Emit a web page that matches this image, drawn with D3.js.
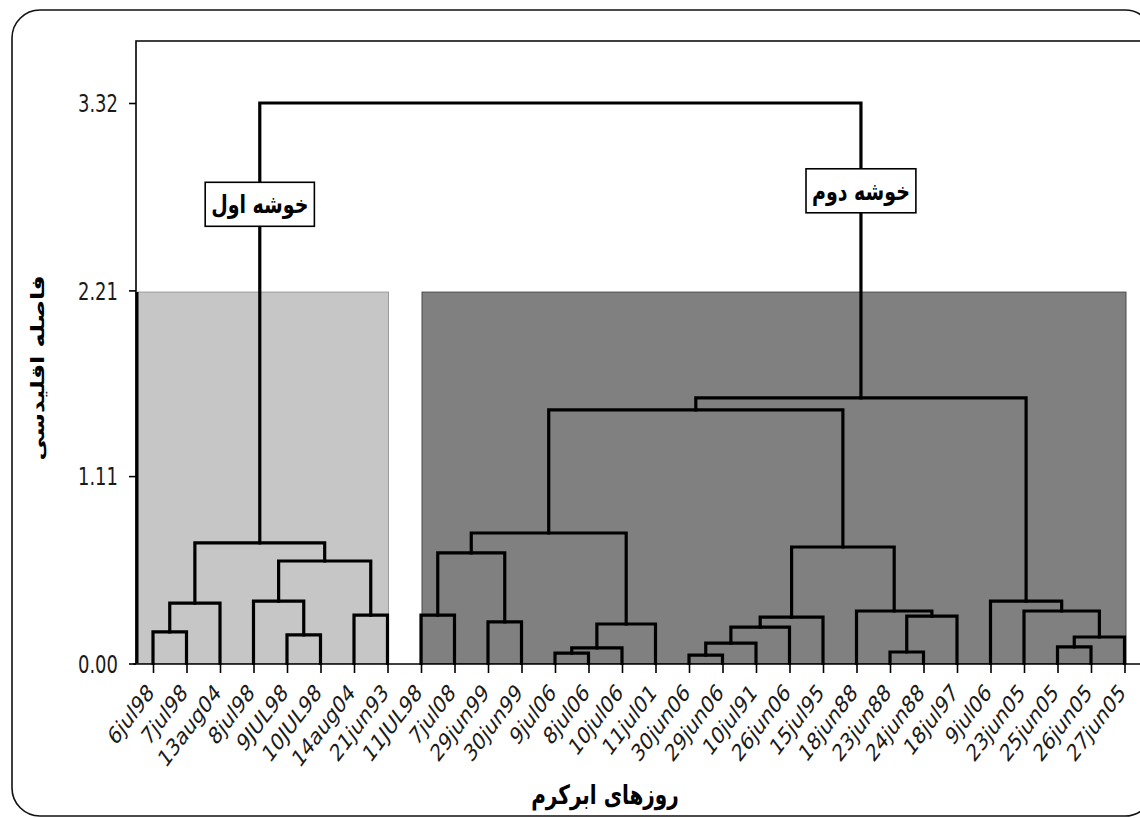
<!DOCTYPE html>
<html>
<head>
<meta charset="utf-8">
<script src="https://cdn.jsdelivr.net/npm/d3@7"></script>
<style>
  body { margin: 0; background: #fff; }
  svg { display: block; }
</style>
</head>
<body>
<svg id="chart" width="1140" height="818"></svg>
<script>
// Cloudburst days, in dendrogram leaf order
const leafLabels = [
  "6jul98", "7jul98", "13aug04", "8jul98", "9JUL98", "10JUL98", "14aug04", "21jun93",
  "11JUL98", "7jul08", "29jun99", "30jun99", "9jul06", "8jul06", "10jul06", "11jul01",
  "30jun06", "29jun06", "10jul91", "26jun06", "15jul95", "18jun88", "23jun88", "24jun88",
  "18jul97", "9jul06", "23jun05", "25jun05", "26jun05", "27jun05"
];

// Agglomeration steps: step k joins nodes mergeA[k] and mergeB[k] at mergeHeight[k]
// and creates node id leafLabels.length + k
const mergeA = [16, 12, 22, 31, 27, 30, 34, 4, 0, 35, 33, 10, 39, 32, 6, 8, 21, 26, 38, 3, 25, 49, 45, 42, 48, 52, 55, 56, 54];
const mergeB = [17, 13, 23, 14, 28, 18, 29, 5, 1, 19, 15, 11, 20, 24, 7, 9, 43, 36, 2, 37, 47, 44, 41, 46, 51, 40, 53, 50, 57];
const mergeHeight = [0.050, 0.062, 0.068, 0.092, 0.098, 0.121, 0.157, 0.169, 0.187, 0.216,
                     0.234, 0.246, 0.275, 0.281, 0.287, 0.287, 0.311, 0.311, 0.358, 0.370,
                     0.370, 0.607, 0.655, 0.690, 0.714, 0.773, 1.502, 1.573, 3.32];

// Euclidean distance axis
const yTickValues = [0, 1.11, 2.21, 3.32];
const yTickLabels = ["0.00", "1.11", "2.21", "3.32"];

// Two clusters cut from the tree
const clusterNames = ["خوشه اول", "خوشه دوم"];
const clusterFirstLeaf = [0, 8];
const clusterLastLeaf = [7, 29];
const clusterNode = [54, 57];
const clusterNameHeight = [2.72, 2.80];
const cutHeight = 2.2;

const yTitle = "فاصله اقلیدسی";
const xTitle = "روزهای ابرکرم";

// ---- layout ----
const W = 1140, H = 818;
const plot = { left: 136, top: 41, bottom: 663.5 };
const stretch = 1.33;   // tall, narrow lettering of the chart

const svg = d3.select("#chart");

const x = d3.scalePoint()
  .domain(d3.range(leafLabels.length))
  .range([153, 1124.5]);

const y = d3.scaleLinear()
  .domain([0, 3.32])
  .range([plot.bottom, 103]);

// outer rounded frame
svg.append("rect")
  .attr("x", 12).attr("y", 10)
  .attr("width", 1141).attr("height", 806)
  .attr("rx", 28).attr("ry", 28)
  .attr("fill", "#fff")
  .attr("stroke", "#111").attr("stroke-width", 1.6);

// plot frame (left and top sides show)
svg.append("path")
  .attr("d", `M${plot.left},${plot.bottom} V${plot.top} H${W + 5}`)
  .attr("fill", "none").attr("stroke", "#000").attr("stroke-width", 1.6);

// ---- node positions ----
const nodeX = leafLabels.map((_, i) => x(i));
const nodeH = leafLabels.map(() => 0);
mergeA.forEach((a, k) => {
  const b = mergeB[k];
  nodeX.push((nodeX[a] + nodeX[b]) / 2);
  nodeH.push(mergeHeight[k]);
});

// ---- cluster shading ----
const clusterFill = ["#c6c6c6", "#808080"];
const clusterEdge = ["#9a9a9a", "#4a4a4a"];
const boxPad = [[-16, 1], [1, 1.5]];
clusterNames.forEach((_, c) => {
  const x0 = x(clusterFirstLeaf[c]) + boxPad[c][0];
  const x1 = x(clusterLastLeaf[c]) + boxPad[c][1];
  svg.append("rect")
    .attr("x", x0).attr("y", y(cutHeight))
    .attr("width", x1 - x0).attr("height", plot.bottom - y(cutHeight))
    .attr("fill", clusterFill[c])
    .attr("stroke", clusterEdge[c]).attr("stroke-width", 1);
});
// heavy left edge of the first cluster block
svg.append("line")
  .attr("x1", x(clusterFirstLeaf[0]) - 16).attr("x2", x(clusterFirstLeaf[0]) - 16)
  .attr("y1", y(cutHeight)).attr("y2", plot.bottom)
  .attr("stroke", "#000").attr("stroke-width", 3);

// ---- x axis ----
const xAxis = d3.axisBottom(x).tickSize(9).tickFormat("");
const gx = svg.append("g")
  .attr("transform", `translate(0,${plot.bottom + 0.5})`)
  .call(xAxis);
gx.select(".domain").remove();
gx.selectAll(".tick line").attr("stroke", "#000").attr("stroke-width", 1.6);
svg.append("line")
  .attr("x1", plot.left - 3).attr("x2", W)
  .attr("y1", plot.bottom + 0.5).attr("y2", plot.bottom + 0.5)
  .attr("stroke", "#000").attr("stroke-width", 1.6);

svg.append("g")
  .selectAll("text")
  .data(leafLabels)
  .join("text")
  .attr("transform", (d, i) => `translate(${x(i) + 2},694) scale(1,${stretch}) rotate(-45)`)
  .attr("text-anchor", "end")
  .attr("font-family", "DejaVu Sans, sans-serif")
  .attr("font-size", 18)
  .attr("fill", "#1a1a1a")
  .text(d => d);

// ---- y axis ----
const yAxis = d3.axisLeft(y)
  .tickValues(yTickValues)
  .tickFormat((d, i) => yTickLabels[i])
  .tickSize(7)
  .tickPadding(11);
const gy = svg.append("g")
  .attr("transform", `translate(${plot.left},0)`)
  .call(yAxis);
gy.select(".domain").remove();
gy.selectAll(".tick line").attr("stroke", "#000").attr("stroke-width", 1.6);
gy.selectAll(".tick text")
  .attr("font-family", "DejaVu Sans, sans-serif")
  .attr("font-size", 18)
  .attr("fill", "#1a1a1a")
  .attr("dy", "0.36em")
  .attr("transform", `scale(1,${stretch})`)
  .attr("y", 0);

// ---- dendrogram links ----
const links = svg.append("g")
  .attr("fill", "none")
  .attr("stroke", "#000")
  .attr("stroke-width", 3.2)
  .attr("stroke-linejoin", "miter")
  .attr("stroke-linecap", "square");
mergeA.forEach((a, k) => {
  const b = mergeB[k];
  const h = y(mergeHeight[k]);
  links.append("path")
    .attr("d", `M${nodeX[a]},${y(nodeH[a])} V${h} H${nodeX[b]} V${y(nodeH[b])}`);
});

// ---- cluster name boxes ----
clusterNames.forEach((name, c) => {
  const cx = nodeX[clusterNode[c]];
  const cy = y(clusterNameHeight[c]);
  const g = svg.append("g").attr("transform", `translate(${cx},${cy})`);
  const t = g.append("text")
    .attr("text-anchor", "middle")
    .attr("direction", "rtl")
    .attr("font-family", "DejaVu Sans, sans-serif")
    .attr("font-weight", "bold")
    .attr("font-size", 19)
    .attr("fill", "#000")
    .attr("dy", "0.35em")
    .attr("transform", `scale(1,${stretch})`)
    .text(name);
  const bw = t.node().getBBox().width + 12;
  g.insert("rect", "text")
    .attr("x", -bw / 2).attr("y", -22)
    .attr("width", bw).attr("height", 44)
    .attr("fill", "#fff")
    .attr("stroke", "#000").attr("stroke-width", 1.6);
});

// ---- axis titles ----
svg.append("text")
  .attr("transform", `translate(605,804) scale(1,${stretch})`)
  .attr("text-anchor", "middle")
  .attr("direction", "rtl")
  .attr("font-family", "DejaVu Sans, sans-serif")
  .attr("font-weight", "bold")
  .attr("font-size", 20)
  .attr("fill", "#000")
  .text(xTitle);

svg.append("text")
  .attr("transform", `translate(44,368) scale(1,${stretch}) rotate(-90)`)
  .attr("text-anchor", "middle")
  .attr("direction", "rtl")
  .attr("font-family", "DejaVu Sans, sans-serif")
  .attr("font-weight", "bold")
  .attr("font-size", 18)
  .attr("fill", "#000")
  .text(yTitle);
</script>
</body>
</html>
